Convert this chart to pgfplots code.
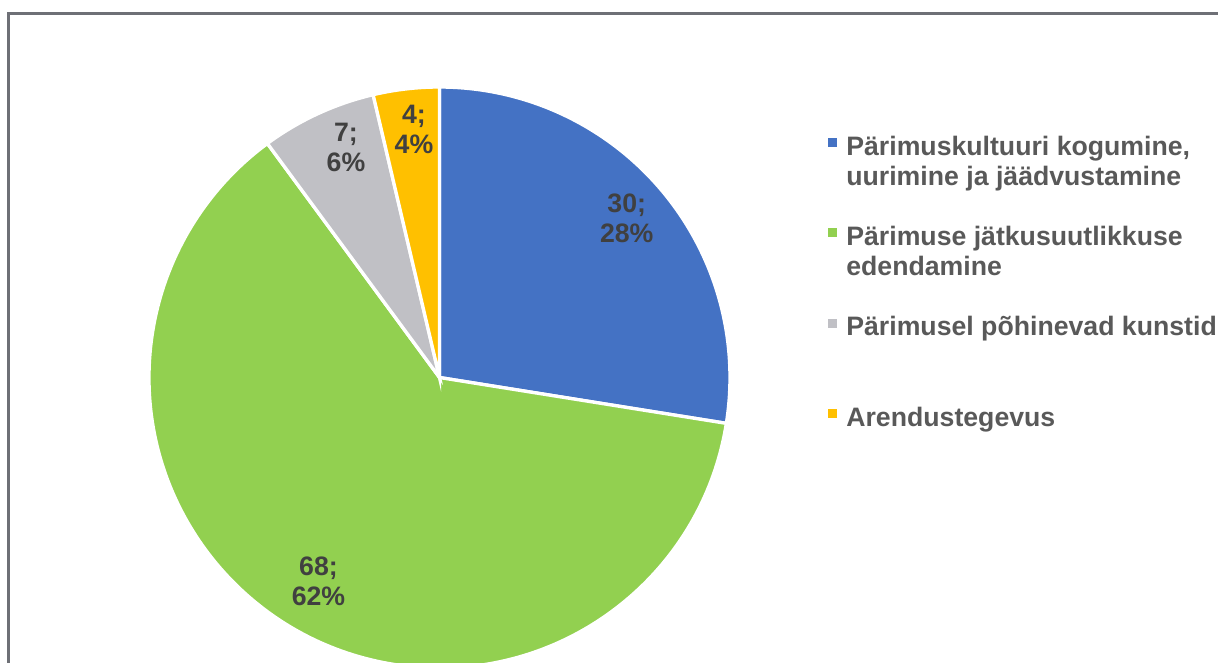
\documentclass[border=0pt]{standalone}
\usepackage{fontspec}
\setmainfont{Liberation Sans}
\usepackage{pgfplots}
\pgfplotsset{compat=1.18}
\definecolor{sliceblue}{RGB}{68,114,196}
\definecolor{slicegreen}{RGB}{146,208,80}
\definecolor{slicegray}{RGB}{192,192,197}
\definecolor{sliceyellow}{RGB}{255,192,0}
\definecolor{framegray}{RGB}{110,112,118}
\definecolor{legendgray}{RGB}{89,89,89}
\definecolor{labelgray}{RGB}{64,64,64}
\tikzset{lbl/.style={font=\fontsize{20}{22.5}\selectfont\bfseries, text=labelgray, align=center}}

% values: 30, 68, 7, 4 (total 109), drawn clockwise from 12 o'clock
% angles: 90 -> -9.0826 -> -233.6697 (126.3303) -> 103.2110 -> 90
\begin{document}
\begin{tikzpicture}
\path[use as bounding box] (0,0) rectangle (913.5pt,-496.5pt);
\clip (0,0) rectangle (913.5pt,-496.5pt);
\draw[framegray, line width=2.25pt] (6.4pt,-10.1pt) rectangle (940pt,-520pt);
\begin{axis}[
    at={(329.625pt,-283.125pt)}, anchor=center,
    x=217.875pt, y=217.875pt,
    xmin=-1, xmax=1, ymin=-1, ymax=1,
    hide axis, clip=false,
    legend cell align=left,
    legend image code/.code={\fill[#1, draw=none] (0pt,10.125pt) rectangle (6.75pt,16.875pt);},
    legend style={at={(1.1687,0.919)}, anchor=north west, draw=none, fill=none,
        inner sep=0pt, outer sep=0pt, row sep=28pt, column sep=7pt,
        font=\fontsize{20}{22.5}\selectfont\bfseries,
        nodes={align=left, inner sep=0pt, text=legendgray}},
]
\addplot[fill=sliceblue, draw=white, line width=2.5pt] coordinates {(0,0) (0,1)}
    arc[start angle=90, end angle=-9.0826, radius=217.875pt] -- cycle;
\addlegendentry{\strut Pärimuskultuuri kogumine,\\\strut uurimine ja jäädvustamine}
\addplot[fill=slicegreen, draw=white, line width=2.5pt] coordinates {(0,0) (0.98746,-0.15786)}
    arc[start angle=-9.0826, end angle=-233.6697, radius=217.875pt] -- cycle;
\addlegendentry{\strut Pärimuse jätkusuutlikkuse\\\strut edendamine}
\addplot[fill=slicegray, draw=white, line width=2.5pt] coordinates {(0,0) (-0.59246,0.80565)}
    arc[start angle=126.3303, end angle=103.2110, radius=217.875pt] -- cycle;
\addlegendentry{\strut Pärimusel põhinevad kunstid\\\strut}
\addplot[fill=sliceyellow, draw=white, line width=2.5pt] coordinates {(0,0) (-0.22854,0.97354)}
    arc[start angle=103.2110, end angle=90, radius=217.875pt] -- cycle;
\addlegendentry{\strut Arendustegevus\\\strut}

\node[lbl] at (axis cs:0.6444,0.5491) {30;\\28\%};
\node[lbl] at (axis cs:-0.4165,-0.7029) {68;\\62\%};
\node[lbl] at (axis cs:-0.3219,0.7917) {7;\\6\%};
\node[lbl] at (axis cs:-0.0878,0.8554) {4;\\4\%};
\end{axis}
\end{tikzpicture}
\end{document}
